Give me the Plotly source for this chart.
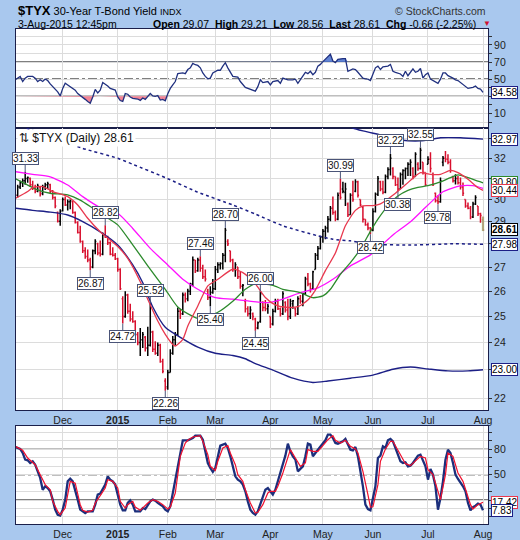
import math
import pandas as pd
import plotly.graph_objects as go

# ---------------- calendar (trading days) ----------------
holidays = {"2014-11-27", "2014-12-25", "2015-01-01", "2015-01-19",
            "2015-02-16", "2015-04-03", "2015-05-25", "2015-07-03"}
dates = [d for d in pd.bdate_range("2014-11-03", "2015-08-03")
         if d.strftime("%Y-%m-%d") not in holidays]

# ---------------- price data ($TYX daily OHLC) ----------------
opens = [30.5, 30.2, 30.6, 30.8, 30.9, 31.0, 31.0, 30.7, 30.55, 30.4, 30.6, 30.3, 30.6, 30.7, 30.7, 30.4, 30.1, 29.4, 29.0, 29.5,
         30.0, 29.75, 29.9, 29.9, 29.4, 28.95, 28.5, 28.1, 27.7, 27.45, 27.3, 27.0, 27.7, 28.0, 27.6, 27.55, 28.4, 28.3, 28.05, 27.55,
         27.5, 27.35, 26.9, 25.7, 25.0, 25.85, 25.2, 24.9, 24.8, 24.3, 24.0, 24.1, 24.2, 23.8, 23.9, 24.4, 23.75, 23.6, 23.9, 23.3,
         22.6, 22.4, 22.9, 23.6, 24.1, 24.3, 25.2, 25.1, 25.85, 25.7, 26.0, 26.3, 27.3, 26.85, 27.3, 26.95, 26.6, 26.0, 25.75, 25.95,
         26.1, 26.9, 27.1, 27.15, 27.5, 28.1, 27.7, 27.3, 26.9, 27.0, 26.6, 26.2, 25.6, 25.3, 25.1, 25.1, 24.9, 24.55, 24.8, 25.55,
         25.35, 25.3, 25.0, 24.7, 25.2, 25.6, 25.3, 25.1, 25.55, 25.25, 25.0, 25.5, 25.3, 25.1, 25.7, 25.6, 25.9, 26.5, 26.3, 26.1,
         26.9, 27.5, 27.8, 28.3, 28.55, 28.7, 29.1, 29.6, 29.4, 29.1, 30.3, 30.5, 30.35, 29.8, 29.3, 30.2, 30.4, 30.85, 30.0, 29.65,
         29.1, 28.85, 28.7, 28.6, 29.45, 30.25, 30.85, 30.5, 30.35, 31.1, 31.45, 31.5, 31.1, 30.7, 30.5, 31.2, 31.4, 31.5, 31.7, 31.5,
         31.1, 31.7, 31.5, 31.8, 31.3, 31.7, 31.95, 31.2, 30.3, 29.95, 29.9, 31.8, 32.0, 31.95, 31.8, 31.1, 30.9, 31.0, 30.8, 30.6,
         30.0, 29.7, 29.6, 29.2, 29.8, 29.7, 29.35, 29.07]
highs = [30.6, 30.7, 30.9, 31.0, 31.33, 31.1, 31.05, 30.9, 30.7, 30.75, 30.65, 30.7, 30.8, 30.85, 30.75, 30.45, 30.15, 29.45, 29.55, 30.1,
         30.15, 30.0, 30.0, 29.95, 29.45, 29.0, 28.8, 28.15, 27.85, 27.75, 27.4, 27.75, 28.2, 28.05, 28.15, 28.5, 28.82, 28.35, 28.1, 27.85,
         27.6, 27.4, 26.95, 25.8, 26.0, 25.9, 25.5, 25.2, 24.85, 24.4, 24.55, 24.4, 24.25, 24.6, 25.52, 24.45, 24.05, 24.0, 23.95, 23.4,
         22.7, 23.0, 23.75, 24.25, 24.4, 25.35, 25.3, 25.95, 25.95, 26.1, 26.35, 27.45, 27.3, 27.4, 27.46, 27.1, 26.9, 26.1, 26.2, 26.5,
         27.05, 27.2, 27.2, 27.6, 28.70, 28.2, 27.7, 27.35, 27.2, 27.0, 26.8, 26.3, 25.7, 25.4, 25.4, 25.15, 24.95, 24.8, 26.0, 25.6,
         25.65, 25.5, 25.0, 25.3, 25.7, 25.7, 25.35, 26.0, 25.6, 25.7, 25.7, 25.65, 25.35, 25.8, 25.85, 25.94, 26.6, 26.75, 26.35, 26.85,
         27.6, 27.9, 28.35, 28.65, 28.8, 29.24, 29.7, 30.15, 29.5, 30.33, 30.99, 30.85, 30.8, 29.86, 30.3, 30.9, 30.97, 30.9, 30.0, 29.7,
         29.1, 28.95, 28.75, 29.6, 30.33, 31.13, 30.9, 30.9, 31.2, 31.55, 32.22, 31.55, 31.1, 31.05, 31.3, 31.46, 31.54, 31.8, 31.95, 31.55,
         32.3, 31.8, 32.55, 31.8, 31.3, 32.1, 32.3, 31.3, 30.33, 30.2, 31.05, 32.12, 32.37, 32.2, 31.95, 31.13, 31.21, 31.13, 31.05, 30.81,
         30.01, 29.86, 29.7, 29.9, 30.2, 29.7, 29.39, 29.21]
lows = [30.1, 30.1, 30.5, 30.6, 30.7, 30.8, 30.6, 30.45, 30.3, 30.35, 30.15, 30.2, 30.45, 30.5, 30.3, 30.0, 29.6, 28.95, 28.8, 29.45,
        29.7, 29.5, 29.55, 29.35, 28.9, 28.45, 28.05, 27.6, 27.35, 27.2, 26.87, 26.95, 27.55, 27.5, 27.45, 27.5, 28.25, 27.95, 27.5, 27.45,
        27.3, 26.8, 26.05, 24.72, 24.95, 25.1, 24.8, 24.75, 24.2, 23.9, 23.5, 23.8, 23.67, 23.5, 23.85, 23.65, 23.55, 23.5, 23.25, 22.88,
        22.26, 22.29, 22.9, 23.55, 23.9, 24.25, 24.9, 25.05, 25.55, 25.6, 25.85, 26.2, 26.75, 26.8, 26.8, 26.5, 26.4, 25.65, 25.40, 25.9,
        26.05, 26.75, 26.9, 26.9, 27.2, 27.9, 27.2, 26.8, 26.6, 26.5, 26.1, 25.8, 25.15, 25.0, 24.9, 24.85, 24.45, 24.5, 24.75, 25.2,
        25.2, 25.1, 24.55, 24.65, 25.15, 25.25, 25.0, 25.05, 25.15, 24.85, 24.9, 25.3, 25.0, 25.05, 25.5, 25.4, 25.85, 26.2, 25.95, 26.05,
        26.9, 27.3, 27.75, 28.05, 28.2, 28.5, 29.0, 29.3, 29.0, 29.05, 30.0, 30.3, 29.7, 29.2, 29.3, 29.9, 30.35, 30.1, 29.7, 28.95,
        28.8, 28.6, 28.42, 28.55, 29.4, 30.17, 30.4, 30.25, 30.3, 30.97, 31.15, 30.97, 30.65, 30.38, 30.5, 30.7, 30.97, 31.13, 31.13, 30.97,
        31.1, 31.38, 31.45, 31.2, 30.64, 31.7, 31.3, 30.64, 29.86, 29.78, 29.85, 31.6, 31.8, 31.7, 31.29, 30.81, 30.72, 30.72, 30.48, 30.17,
        29.62, 29.55, 29.09, 29.15, 29.75, 29.24, 28.94, 28.56]
closes = [30.2, 30.6, 30.8, 30.9, 31.0, 31.05, 30.7, 30.55, 30.4, 30.65, 30.25, 30.6, 30.7, 30.75, 30.4, 30.1, 29.7, 29.0, 29.45, 30.0,
          29.75, 29.9, 29.95, 29.4, 28.95, 28.5, 28.1, 27.7, 27.45, 27.3, 27.0, 27.7, 28.1, 27.6, 27.55, 28.4, 28.3, 28.05, 27.55, 27.5,
          27.35, 26.9, 26.1, 25.0, 25.85, 25.2, 24.9, 24.8, 24.3, 24.0, 24.1, 24.3, 23.8, 23.9, 24.4, 23.75, 23.6, 23.9, 23.3, 22.95,
          22.35, 22.9, 23.6, 24.1, 24.3, 25.2, 25.1, 25.85, 25.7, 26.0, 26.3, 27.3, 26.85, 27.3, 26.95, 26.6, 26.5, 25.75, 25.95, 26.1,
          26.9, 27.1, 27.15, 27.5, 28.6, 28.0, 27.3, 26.9, 27.1, 26.6, 26.2, 26.25, 25.3, 25.1, 25.25, 25.0, 24.55, 24.75, 25.9, 25.35,
          25.3, 25.4, 24.7, 25.2, 25.6, 25.3, 25.1, 25.9, 25.25, 25.0, 25.6, 25.62, 25.1, 25.7, 25.6, 25.9, 26.5, 26.3, 26.1, 26.8,
          27.5, 27.8, 28.3, 28.55, 28.7, 29.1, 29.6, 29.4, 29.1, 30.2, 30.1, 30.4, 30.5, 29.3, 30.2, 30.0, 30.85, 30.2, 29.75, 29.1,
          28.85, 28.7, 28.6, 29.45, 30.25, 31.0, 30.5, 30.35, 31.1, 31.45, 32.0, 31.1, 30.7, 30.5, 31.2, 31.4, 31.5, 31.7, 31.8, 31.1,
          32.2, 31.5, 32.4, 31.3, 30.7, 31.95, 31.5, 30.7, 29.95, 29.9, 30.9, 32.0, 31.95, 31.8, 31.4, 30.9, 31.0, 30.8, 30.6, 30.3,
          29.7, 29.6, 29.2, 29.8, 30.1, 29.35, 29.27, 28.61]

# swing labels (bar indices)
label_high_idx = [4, 36, 54, 74, 84, 98, 130, 150, 162]
label_low_idx = [30, 43, 60, 78, 96, 142, 153, 169]

# ---------------- overlays ----------------
ma_red_idx = [0, 5, 7, 11, 15, 21, 25, 29, 34, 41, 45, 50, 53, 57, 60, 63, 64, 67, 69, 73, 77, 81, 87, 91, 96, 100, 104, 108,
              113, 117, 120, 124, 128, 132, 136, 139, 143, 146, 152, 156, 160, 162, 166, 170, 174, 177, 181, 185, 187]
ma_red_val = [30.05, 30.38, 30.57, 30.62, 30.38, 30.14, 29.75, 29.14, 28.53, 27.88, 27.37, 26.39, 25.68, 24.82, 24.31, 23.93,
              23.87, 24.12, 24.63, 25.41, 26.22, 26.49, 26.91, 26.77, 26.3, 25.75, 25.45, 25.36, 25.38, 25.65, 26.05, 26.85,
              27.6, 28.8, 29.5, 29.71, 29.72, 29.8, 30.3, 30.7, 31.13, 31.29, 31.21, 31.21, 31.4, 31.29, 30.97, 30.56, 30.44]

ma_green_idx = [0, 5, 9, 14, 21, 26, 31, 35, 41, 47, 53, 60, 65, 71, 73, 77, 81, 87, 92, 96, 103, 107, 114, 119, 123, 126,
                130, 134, 138, 142, 145, 149, 153, 157, 161, 165, 170, 174, 177, 181, 185, 187]
ma_green_val = [31.0, 30.69, 30.46, 30.3, 30.22, 29.98, 29.6, 29.29, 28.84, 27.95, 27.05, 26.08, 25.37, 25.0, 24.92, 25.02,
                25.16, 25.6, 26.08, 26.3, 26.24, 26.08, 25.94, 25.74, 25.81, 26.08, 26.7, 27.19, 27.77, 28.55, 29.1, 29.71,
                30.17, 30.44, 30.58, 30.66, 30.84, 31.05, 31.18, 31.05, 30.88, 30.80]

ma_magenta_idx = [0, 7, 14, 21, 27, 34, 41, 47, 54, 61, 67, 73, 80, 87, 93, 101, 107, 114, 121, 127, 134, 142, 151, 158,
                  165, 171, 178, 183, 187]
ma_magenta_val = [31.34, 31.21, 31.09, 30.69, 30.14, 29.63, 29.37, 28.68, 27.80, 27.09, 26.49, 26.08, 25.74, 25.68, 25.61,
                  25.54, 25.68, 25.94, 26.14, 26.49, 27.05, 27.52, 28.39, 28.98, 29.75, 30.37, 30.65, 30.66, 30.53]

band_mid_idx = [0, 19, 27, 41, 47, 60, 73, 87, 96, 107, 121, 127, 134, 143, 160, 175, 187]
band_mid_val = [33.75, 32.88, 32.5, 32.0, 31.7, 31.05, 30.35, 29.75, 29.33, 28.8, 28.35, 28.2, 28.13, 27.98, 27.95, 28.0, 27.98]

band_low_idx = [0, 7, 14, 21, 27, 34, 41, 47, 51, 55, 60, 67, 73, 80, 87, 92, 96, 103, 111, 119, 125, 134, 143, 151, 158,
                165, 173, 181, 187]
band_low_val = [29.6, 29.5, 29.42, 29.29, 28.99, 28.53, 27.95, 27.09, 26.35, 25.37, 24.58, 24.14, 23.83, 23.6, 23.52, 23.4,
                23.22, 22.99, 22.7, 22.55, 22.6, 22.7, 22.81, 23.02, 23.1, 23.03, 22.96, 22.96, 23.00]

band_up_idx = [133, 135, 139, 146, 154, 162, 170, 178, 187]
band_up_val = [33.7, 33.55, 33.4, 33.19, 32.93, 32.88, 33.04, 33.04, 32.97]

# ---------------- RSI(14) ----------------
rsi_idx = [0, 1, 2, 3, 4, 5, 7, 8, 9, 10, 11, 12, 13, 14, 15, 17, 18, 19, 20, 21, 23, 24, 25, 27, 28, 29, 30, 31, 32, 33,
           34, 35, 36, 37, 38, 39, 40, 41, 42, 43, 44, 45, 46, 47, 48, 49, 50, 51, 52, 53, 54, 55, 56, 57, 58, 59, 60, 61,
           62, 63, 64, 65, 66, 67, 68, 69, 70, 71, 72, 73, 74, 75, 76, 77, 78, 79, 81, 82, 83, 84, 85, 86, 87, 89, 90, 92,
           94, 96, 97, 98, 99, 101, 102, 103, 105, 106, 107, 108, 109, 111, 112, 113, 114, 115, 116, 117, 118, 119, 120,
           121, 122, 123, 125, 126, 127, 128, 129, 130, 131, 132, 133, 135, 136, 137, 139, 140, 141, 142, 143, 144, 145,
           146, 147, 149, 150, 151, 152, 154, 155, 156, 157, 158, 159, 160, 161, 162, 163, 164, 165, 166, 167, 169, 170,
           171, 172, 173, 175, 176, 177, 179, 180, 181, 183, 184, 185, 186, 187]
rsi_val = [49.2, 51.2, 53.2, 47.2, 51.2, 53.2, 53.2, 51.2, 47.2, 49.2, 47.2, 50.0, 48.4, 44.4, 41.2, 35.2, 30.4, 39.2, 45.2,
           43.2, 39.2, 37.2, 33.2, 29.2, 26.4, 24.0, 22.0, 29.2, 38.0, 34.0, 37.2, 46.0, 44.4, 42.0, 39.2, 38.0, 37.2, 29.2,
           25.0, 24.0, 33.2, 32.4, 29.2, 27.6, 27.2, 26.8, 25.2, 28.0, 26.4, 30.0, 33.2, 30.4, 30.0, 30.8, 25.6, 26.4, 24.8,
           33.0, 39.2, 43.2, 47.2, 56.4, 57.2, 57.2, 56.4, 61.2, 63.2, 68.4, 66.8, 66.0, 63.2, 57.2, 53.2, 50.4, 51.2, 57.2,
           60.4, 60.4, 65.2, 69.2, 63.2, 57.2, 53.2, 52.4, 47.2, 40.4, 38.4, 36.0, 41.2, 49.2, 46.0, 47.2, 43.2, 47.2, 48.4,
           45.2, 51.2, 50.0, 49.2, 49.2, 50.0, 45.2, 50.0, 53.2, 58.0, 56.4, 59.2, 55.2, 58.0, 65.2, 67.2, 70.4, 76.4, 79.2,
           71.2, 69.2, 73.2, 74.0, 74.0, 74.0, 59.2, 62.0, 61.2, 58.0, 51.2, 50.4, 50.0, 48.4, 55.2, 63.2, 65.2, 61.2, 64.4,
           65.2, 67.2, 59.2, 58.0, 56.0, 53.2, 59.2, 54.0, 58.0, 62.0, 58.0, 59.2, 62.4, 51.2, 55.2, 57.2, 50.0, 48.4, 45.2,
           50.0, 57.2, 57.2, 54.0, 51.2, 49.2, 48.4, 44.0, 41.2, 39.2, 40.4, 42.0, 39.2, 38.5, 34.58]

# ---------------- Slow stochastic ----------------
stk_idx = [0, 2, 3, 4, 5, 6, 7, 8, 9, 10, 11, 12, 13, 14, 15, 16, 17, 18, 19, 20, 21, 22, 23, 24, 25, 26, 27, 28, 29, 31,
           32, 33, 34, 35, 36, 37, 38, 39, 40, 41, 42, 43, 44, 45, 46, 47, 48, 50, 51, 52, 53, 54, 55, 56, 57, 59, 60, 61,
           62, 63, 64, 65, 66, 67, 68, 69, 71, 72, 74, 75, 76, 77, 78, 79, 80, 81, 82, 84, 85, 86, 87, 88, 89, 90, 91, 92,
           93, 94, 95, 96, 97, 98, 99, 100, 101, 102, 103, 104, 105, 106, 107, 108, 109, 110, 111, 112, 113, 114, 115, 116,
           117, 118, 119, 120, 121, 122, 123, 124, 125, 126, 127, 128, 129, 131, 132, 133, 134, 135, 136, 137, 138, 139, 140,
           141, 142, 143, 144, 145, 146, 147, 148, 149, 150, 151, 152, 153, 154, 155, 156, 157, 158, 159, 160, 161, 162, 163,
           164, 165, 166, 167, 168, 169, 170, 171, 172, 173, 174, 175, 176, 177, 178, 179, 180, 181, 182, 183, 184, 185, 186,
           187]
stk_val = [82.8, 80.4, 75.7, 67.8, 67.0, 63.8, 65.8, 61.8, 53.9, 46.1, 32.2, 36.2, 34.2, 30.3, 20.4, 8.6, 2.6, 1.5, 8.6, 20.4,
           42.1, 45.3, 42.1, 32.2, 20.4, 8.6, 6.6, 4.6, 6.6, 6.6, 14.5, 26.3, 27.5, 32.2, 38.2, 48.0, 44.1, 42.1, 38.2, 26.3,
           14.5, 7.8, 7.8, 16.5, 19.6, 14.5, 6.6, 6.6, 10.5, 9.3, 14.5, 18.4, 20.4, 19.2, 16.5, 12.5, 8.6, 6.6, 12.5, 28.3,
           46.1, 63.8, 79.6, 90.7, 90.7, 90.7, 93.4, 96.2, 96.2, 91.4, 77.6, 63.8, 57.9, 53.2, 57.9, 69.7, 84.3, 86.7, 81.6,
           71.7, 59.9, 48.0, 44.1, 42.1, 38.2, 30.3, 18.4, 8.6, 4.6, 2.6, 6.6, 14.5, 22.4, 32.2, 34.2, 30.3, 26.3, 32.2, 42.1,
           51.2, 63.8, 72.5, 86.7, 77.6, 71.7, 67.8, 53.9, 56.7, 59.9, 71.7, 86.7, 85.5, 71.7, 75.7, 79.6, 84.3, 87.5, 90.7,
           97.4, 97.4, 93.4, 87.5, 86.7, 89.5, 92.2, 86.7, 79.6, 78.8, 82.8, 71.7, 55.9, 36.2, 14.5, 9.3, 7.8, 20.4, 36.2,
           69.7, 72.5, 83.5, 81.6, 90.7, 92.2, 89.5, 81.6, 73.7, 65.8, 63.8, 64.6, 59.9, 60.7, 63.8, 68.6, 72.5, 73.7, 65.8,
           59.9, 44.1, 56.7, 50.0, 36.2, 8.6, 22.4, 42.1, 67.8, 79.6, 75.7, 63.8, 50.0, 44.9, 40.9, 36.2, 30.3, 16.5, 7.8,
           11.7, 13.3, 15.7, 14.5, 7.83]
std_idx = [0, 3, 5, 7, 8, 10, 12, 14, 15, 17, 18, 20, 21, 22, 24, 25, 26, 27, 29, 31, 32, 34, 36, 37, 39, 41, 42, 44, 45,
           47, 48, 50, 51, 53, 55, 57, 59, 61, 62, 64, 65, 66, 68, 69, 71, 74, 75, 77, 78, 80, 81, 83, 85, 86, 88, 89, 91,
           92, 94, 96, 97, 99, 101, 102, 104, 105, 107, 109, 110, 112, 114, 116, 117, 119, 121, 123, 125, 127, 128, 130,
           132, 134, 136, 137, 139, 141, 142, 143, 145, 146, 148, 150, 151, 153, 155, 156, 158, 160, 162, 164, 165, 167,
           169, 170, 172, 173, 175, 177, 179, 180, 182, 183, 185, 187]
std_val = [83.5, 78.8, 69.7, 64.6, 61.8, 50.0, 38.2, 32.2, 18.4, 6.6, 2.6, 10.5, 28.3, 42.1, 40.0, 28.3, 14.5, 7.8, 5.8,
           7.8, 16.5, 25.1, 34.2, 44.1, 42.1, 34.2, 18.4, 10.5, 14.5, 18.4, 11.7, 7.8, 10.5, 16.5, 20.4, 18.4, 14.5, 9.3,
           11.7, 28.3, 50.0, 71.7, 87.5, 90.7, 94.6, 96.2, 89.5, 73.7, 59.9, 55.1, 65.8, 81.6, 84.3, 75.7, 61.8, 50.0, 42.1,
           32.2, 16.5, 4.6, 5.4, 14.5, 28.3, 30.3, 30.3, 36.2, 52.0, 71.7, 79.6, 69.7, 59.9, 63.8, 79.6, 77.6, 77.6, 84.3,
           91.4, 96.2, 90.7, 87.5, 90.7, 83.5, 80.4, 75.7, 53.9, 26.3, 11.7, 12.0, 38.2, 65.8, 80.4, 89.5, 89.5, 78.8, 67.8,
           63.0, 60.7, 65.8, 71.7, 69.7, 55.9, 50.0, 28.3, 20.4, 50.0, 75.7, 71.7, 52.0, 42.1, 32.2, 14.5, 9.3, 14.5, 17.42]

# ---------------- axis tick labels ----------------
main_ticks = list(range(22, 34))
main_tick_hidden = {23, 28, 31, 33}          # covered by value tags in the original
rsi_ticks = list(range(0, 101, 10))
rsi_tick_labels = {10: "10", 50: "50", 70: "70", 90: "90"}
sto_ticks = list(range(0, 101, 10))
sto_tick_labels = {20: "20", 50: "50", 80: "80"}

# ---------------- styling constants ----------------
FONT = "Liberation Sans, Arial, sans-serif"
NAVY = "#1c1f86"
RED_BAR = "#d8102e"
RED_MA = "#e8384e"
GREEN = "#2c8a2c"
MAGENTA = "#ff10ff"
GRID = "#dcdcdc"
BORDER = "#1a1f4a"
LABEL_EDGE = "#4a5478"

n = len(closes)
month_idx, month_txt = [], []
for i in range(1, n):
    if dates[i].month != dates[i - 1].month:
        month_idx.append(i)
        month_txt.append("<b>2015</b>" if dates[i].month == 1 else dates[i].strftime("%b"))

fig = go.Figure()

# ---------------- RSI panel (x / y) ----------------
fig.add_trace(go.Scatter(x=rsi_idx, y=[70] * len(rsi_idx), mode="lines", line=dict(width=0),
                         xaxis="x", yaxis="y", hoverinfo="skip", showlegend=False))
fig.add_trace(go.Scatter(x=rsi_idx, y=[max(v, 70) for v in rsi_val], mode="lines", line=dict(width=0),
                         fill="tonexty", fillcolor="rgba(70,110,205,0.85)",
                         xaxis="x", yaxis="y", hoverinfo="skip", showlegend=False))
fig.add_trace(go.Scatter(x=rsi_idx, y=[30] * len(rsi_idx), mode="lines", line=dict(width=0),
                         xaxis="x", yaxis="y", hoverinfo="skip", showlegend=False))
fig.add_trace(go.Scatter(x=rsi_idx, y=[min(v, 30) for v in rsi_val], mode="lines", line=dict(width=0),
                         fill="tonexty", fillcolor="rgba(240,110,130,0.85)",
                         xaxis="x", yaxis="y", hoverinfo="skip", showlegend=False))
fig.add_trace(go.Scatter(x=rsi_idx, y=rsi_val, mode="lines", line=dict(color="#20307f", width=1.3),
                         xaxis="x", yaxis="y", hoverinfo="skip", showlegend=False))

# ---------------- main price panel (x2 / y2) ----------------
def overlay(ix, vals, color, width, dash="solid", shape="spline"):
    fig.add_trace(go.Scatter(x=ix, y=vals, mode="lines",
                             line=dict(color=color, width=width, dash=dash, shape=shape, smoothing=0.6),
                             xaxis="x2", yaxis="y2", hoverinfo="skip", showlegend=False))

overlay(band_mid_idx, band_mid_val, NAVY, 1.5, dash="dot")
overlay(band_up_idx, band_up_val, NAVY, 1.4)
overlay(band_low_idx, band_low_val, NAVY, 1.4)
overlay(ma_magenta_idx, ma_magenta_val, MAGENTA, 1.3)
overlay(ma_green_idx, ma_green_val, GREEN, 1.3)
overlay(ma_red_idx, ma_red_val, RED_MA, 1.3)

# highlight of the latest bar
last = n - 1
fig.add_trace(go.Scatter(x=[last - 0.5, last + 0.5, last + 0.5, last - 0.5, last - 0.5],
                         y=[lows[last], lows[last], highs[last], highs[last], lows[last]],
                         mode="lines", fill="toself", fillcolor="rgba(150,230,150,0.6)",
                         line=dict(width=0), xaxis="x2", yaxis="y2", hoverinfo="skip", showlegend=False))

up = [i for i in range(n) if i > 0 and closes[i] >= closes[i - 1]]
dn = [i for i in range(n) if i == 0 or closes[i] < closes[i - 1]]
for sel, col in ((up, "#000000"), (dn, RED_BAR)):
    fig.add_trace(go.Ohlc(x=sel,
                          open=[opens[i] for i in sel], high=[highs[i] for i in sel],
                          low=[lows[i] for i in sel], close=[closes[i] for i in sel],
                          increasing=dict(line=dict(color=col, width=1.5)),
                          decreasing=dict(line=dict(color=col, width=1.5)),
                          tickwidth=0.45, xaxis="x2", yaxis="y2", hoverinfo="skip", showlegend=False))

# ---------------- stochastic panel (x3 / y3) ----------------
fig.add_trace(go.Scatter(x=stk_idx, y=stk_val, mode="lines", line=dict(color="#1c2f7c", width=2.3),
                         xaxis="x3", yaxis="y3", hoverinfo="skip", showlegend=False))
fig.add_trace(go.Scatter(x=std_idx, y=std_val, mode="lines", line=dict(color="#f0102e", width=1.2),
                         xaxis="x3", yaxis="y3", hoverinfo="skip", showlegend=False))

# ---------------- axes ----------------
XR = [0.33, 189.0]
xbase = dict(range=XR, tickvals=month_idx, ticktext=month_txt, showgrid=True, gridcolor=GRID, gridwidth=1,
             zeroline=False, showline=True, linecolor=BORDER, linewidth=1, mirror=True, ticks="",
             tickfont=dict(family=FONT, size=10.5, color="#222"), automargin=False, fixedrange=True)
ybase = dict(side="right", showgrid=True, gridcolor=GRID, gridwidth=1, zeroline=False, showline=True,
             linecolor=BORDER, linewidth=1, mirror=True, ticks="outside", ticklen=3, tickcolor="#333",
             tickfont=dict(family=FONT, size=10.5, color="#222"), automargin=False, fixedrange=True)

D_RSI = [0.8, 1.0]
D_MAIN = [(524 - 410) / 495, 0.8]
D_STO = [0, 98 / 495]

fig.update_layout(
    width=520, height=540,
    margin=dict(l=16, r=32, t=29, b=16),
    paper_bgcolor="#a9c8ee", plot_bgcolor="white",
    template="none", showlegend=False,
    font=dict(family=FONT, size=11, color="#111"),
    xaxis=dict(xbase, domain=[0, 1], anchor="y", showticklabels=False),
    xaxis2=dict(xbase, domain=[0, 1], anchor="y2", showticklabels=True, rangeslider=dict(visible=False)),
    xaxis3=dict(xbase, domain=[0, 1], anchor="y3", showticklabels=True),
    yaxis=dict(ybase, domain=D_RSI, anchor="x", range=[-7.0, 108.5],
               tickvals=rsi_ticks, ticktext=[rsi_tick_labels.get(v, "") for v in rsi_ticks]),
    yaxis2=dict(ybase, domain=D_MAIN, anchor="x2", type="log",
                range=[math.log10(21.60), math.log10(33.55)],
                tickvals=main_ticks,
                ticktext=["" if v in main_tick_hidden else str(v) for v in main_ticks]),
    yaxis3=dict(ybase, domain=D_STO, anchor="x3", range=[-8.4, 107.6],
                tickvals=sto_ticks, ticktext=[sto_tick_labels.get(v, "") for v in sto_ticks]),
)

# reference lines
def hline(yref, val, dash="solid"):
    fig.add_shape(type="line", xref="paper", x0=0, x1=1, yref=yref, y0=val, y1=val,
                  line=dict(color="#000", width=1.2, dash=dash), layer="below")

hline("y", 70); hline("y", 30); hline("y", 50, "dashdot")
hline("y3", 80); hline("y3", 20); hline("y3", 50, "dashdot")

# swing labels
def swing(i, val, above):
    fig.add_annotation(x=i, y=math.log10(val), xref="x2", yref="y2", text=f"{val:.2f}",
                       showarrow=True, ax=0, ay=-13 if above else 13, arrowhead=0, arrowwidth=1,
                       arrowcolor=LABEL_EDGE, standoff=0, bgcolor="white", bordercolor=LABEL_EDGE,
                       borderwidth=1, borderpad=0, height=11,
                       font=dict(family=FONT, size=10, color="#111"))

for i in label_high_idx:
    swing(i, highs[i], True)
for i in label_low_idx:
    swing(i, lows[i], False)

# right-edge value tags
def tag(yref, y, text, color, bold=False):
    fig.add_annotation(xref="paper", x=1, xanchor="left", xshift=3, yref=yref, y=y,
                       text=f"<b>{text}</b>" if bold else text, showarrow=False,
                       bgcolor="white", bordercolor=color, borderwidth=1, borderpad=0, height=11,
                       font=dict(family=FONT, size=10, color="#000"))

tag("y2", math.log10(band_up_val[-1]), f"{band_up_val[-1]:.2f}", NAVY)
tag("y2", math.log10(ma_green_val[-1]), f"{ma_green_val[-1]:.2f}", GREEN)
tag("y2", math.log10(ma_red_val[-1]), f"{ma_red_val[-1]:.2f}", RED_MA)
tag("y2", math.log10(closes[-1]), f"{closes[-1]:.2f}", "#000", bold=True)
tag("y2", math.log10(band_mid_val[-1]), f"{band_mid_val[-1]:.2f}", NAVY)
tag("y2", math.log10(band_low_val[-1]), f"{band_low_val[-1]:.2f}", NAVY)
tag("y", rsi_val[-1], f"{rsi_val[-1]:.2f}", NAVY)
tag("y3", std_val[-1], f"{std_val[-1]:.2f}", RED_MA)
tag("y3", stk_val[-1], f"{stk_val[-1]:.2f}", NAVY)

# price-panel legend
fig.add_annotation(xref="paper", yref="paper", x=0, y=D_MAIN[1], xanchor="left", yanchor="top",
                   xshift=1, yshift=-1, showarrow=False, bgcolor="white", borderpad=1,
                   text=f"⇅ $TYX (Daily) {closes[-1]:.2f}",
                   font=dict(family=FONT, size=12, color="#111"))

# header
chg = closes[-1] - closes[-2]
pct = chg / closes[-2] * 100
fig.add_annotation(xref="paper", yref="paper", x=0, y=1 + 18 / 495, xanchor="left", yanchor="middle",
                   showarrow=False,
                   text="<b><span style='font-size:13px'>$TYX</span></b> 30-Year T-Bond Yield "
                        "<span style='font-size:9px'>INDX</span>",
                   font=dict(family=FONT, size=11, color="#000"))
fig.add_annotation(xref="paper", yref="paper", x=1, y=1 + 18 / 495, xanchor="right", yanchor="middle",
                   showarrow=False, text="© StockCharts.com",
                   font=dict(family=FONT, size=10.5, color="#333"))
fig.add_annotation(xref="paper", yref="paper", x=0, y=1 + 5.5 / 495, xanchor="left", yanchor="middle",
                   showarrow=False, text=dates[-1].strftime("%-d-%b-%Y") + " 12:45pm",
                   font=dict(family=FONT, size=10.5, color="#000"))
fig.add_annotation(xref="paper", yref="paper", x=(478 - 16) / 472, y=1 + 5.5 / 495, xanchor="right",
                   yanchor="middle", showarrow=False,
                   text=(f"<b>Open</b> {opens[-1]:.2f}&nbsp; <b>High</b> {highs[-1]:.2f}&nbsp; "
                         f"<b>Low</b> {lows[-1]:.2f}&nbsp; <b>Last</b> {closes[-1]:.2f}&nbsp; "
                         f"<b>Chg</b> {chg:.2f} ({pct:.2f}%)"),
                   font=dict(family=FONT, size=10.5, color="#000"))
fig.add_annotation(xref="paper", yref="paper", x=(481 - 16) / 472, y=1 + 5.5 / 495, xanchor="left",
                   yanchor="middle", showarrow=False, text="▼",
                   font=dict(family=FONT, size=8, color="#d01030"))

fig.write_html("out.html", config={"displayModeBar": False},
               post_script="document.body.style.margin='0';document.body.style.overflow='hidden';")
